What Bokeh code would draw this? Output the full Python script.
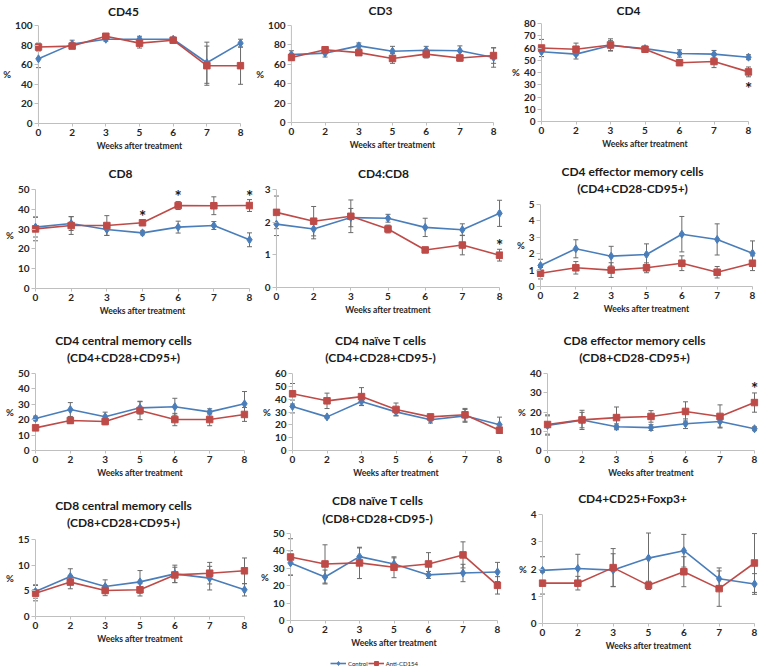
import glob
import subprocess

from bokeh.plotting import figure
from bokeh.layouts import column, row
from bokeh.models import (Range1d, FixedTicker, ColumnDataSource, Whisker, TeeHead,
                          Title, Legend, LegendItem)
from bokeh.embed import file_html
from bokeh.resources import INLINE
from bokeh.core.properties import value

# ---------------- data ----------------
weeks = ["0", "2", "3", "5", "6", "7", "8"]
series_names = ["Control", "Anti-CD154"]

cd45_ctrl = [66, 81, 86, 86, 86, 62, 82]
cd45_ctrl_err = [9, 4, 2, 3, 2, 21, 4]
cd45_anti = [78, 79, 89, 82, 85, 59, 59]
cd45_anti_err = [4, 2, 2, 5, 2, 20, 19]

cd3_ctrl = [70, 71.5, 79, 73.5, 74.5, 74, 67]
cd3_ctrl_err = [4, 4, 3, 5, 4, 5, 10]
cd3_anti = [67, 75, 72, 66, 70.5, 66.5, 69]
cd3_anti_err = [3, 3, 2, 5, 4, 3, 8]

cd4_ctrl = [57, 55, 62, 59.5, 55.5, 55, 52.5]
cd4_ctrl_err = [4, 4, 4, 2, 3, 3, 2]
cd4_anti = [60, 59, 62.5, 59, 48, 49, 40.5]
cd4_anti_err = [7, 5, 5, 2, 2, 5, 4]
cd4_sig_x = ["8"]
cd4_sig_y = [30]

cd8_ctrl = [31, 32.8, 29.8, 28.1, 31, 31.8, 24.6]
cd8_ctrl_err = [5, 3.5, 3, 1, 3, 2, 3.5]
cd8_anti = [30.1, 31.8, 31.8, 33.2, 41.9, 41.8, 41.9]
cd8_anti_err = [6, 4.5, 5, 1.2, 2, 4.5, 3]
cd8_sig_x = ["5", "6", "8"]
cd8_sig_y = [38.5, 48.5, 48.5]

ratio_ctrl = [1.94, 1.79, 2.14, 2.12, 1.84, 1.77, 2.27]
ratio_ctrl_err = [0.35, 0.3, 0.28, 0.12, 0.28, 0.18, 0.4]
ratio_anti = [2.30, 2.03, 2.18, 1.79, 1.15, 1.30, 0.99]
ratio_anti_err = [0.5, 0.45, 0.5, 0.12, 0.08, 0.3, 0.18]
ratio_sig_x = ["8"]
ratio_sig_y = [1.4]

cd4em_ctrl = [1.28, 2.3, 1.85, 1.95, 3.19, 2.87, 2.03]
cd4em_ctrl_err = [0.38, 0.55, 0.6, 0.65, 1.08, 0.95, 0.75]
cd4em_anti = [0.81, 1.14, 1.0, 1.14, 1.42, 0.87, 1.42]
cd4em_anti_err = [0.35, 0.38, 0.45, 0.3, 0.45, 0.35, 0.45]

cd4cm_ctrl = [20.8, 26.6, 21.9, 27.7, 28.4, 25.1, 30.3]
cd4cm_ctrl_err = [1.5, 4.5, 3, 4, 5.5, 2, 8]
cd4cm_anti = [14.7, 19.5, 18.8, 26.0, 20.1, 20.1, 23.4]
cd4cm_anti_err = [1.5, 2, 2, 6, 4, 4, 4.5]

cd4n_ctrl = [34.3, 26.2, 38.2, 30.1, 23.9, 27, 20]
cd4n_ctrl_err = [5, 1, 3, 3, 2.5, 5, 6]
cd4n_anti = [44.2, 38.7, 42, 32, 26.2, 27.8, 15.8]
cd4n_anti_err = [8, 6, 7, 5, 2, 5, 2]

cd8em_ctrl = [13, 15.8, 12.3, 11.9, 13.9, 15.1, 11.3]
cd8em_ctrl_err = [5, 4, 1.5, 1.5, 2.5, 3, 1]
cd8em_anti = [13.5, 15.9, 17.1, 17.7, 20.3, 17.7, 24.9]
cd8em_anti_err = [5, 5, 5.5, 3, 5, 6, 5]
cd8em_sig_x = ["8"]
cd8em_sig_y = [34.5]

cd8cm_ctrl = [4.87, 7.8, 5.84, 6.75, 8.3, 7.47, 5.2]
cd8cm_ctrl_err = [1.3, 1.5, 1.3, 2.2, 1.7, 2.3, 1.2]
cd8cm_anti = [4.55, 6.7, 5.06, 5.2, 8.1, 8.44, 8.9]
cd8cm_anti_err = [1.5, 1.3, 1.0, 1.2, 1.5, 2.1, 2.5]

cd8n_ctrl = [33.1, 25, 36.7, 32.5, 26.2, 27.3, 27.9]
cd8n_ctrl_err = [7, 4, 5, 3.5, 2, 5, 5.5]
cd8n_anti = [36.5, 32.5, 33.1, 30.6, 32.5, 37.7, 20.2]
cd8n_anti_err = [10.5, 11, 9, 6, 6.5, 7.5, 5]

treg_ctrl = [1.95, 2.02, 1.96, 2.4, 2.67, 1.64, 1.45]
treg_ctrl_err = [0.5, 0.52, 0.6, 0.92, 0.6, 0.4, 0.38]
treg_anti = [1.48, 1.48, 2.05, 1.4, 1.9, 1.28, 2.22]
treg_anti_err = [0.4, 0.25, 0.7, 0.15, 0.55, 0.65, 1.08]

# ---------------- style / layout ----------------
FONT = "Lato"
BLUE = "#4A7EBB"
RED = "#BE4B48"
ERRC = "#6b6b6b"
AXC = "#bfbfbf"
TXT = "#262626"
PAD = 4
TITLE_PX = 12
TITLE_H = 15       # height of one title line (px)

COLS = [(0, 253), (253, 503), (503, 760)]
ROWS = [(0, 157), (157, 320), (320, 485), (485, 655)]
LEGEND_ROW = (655, 669)

panels = [
    # row 1
    dict(r=0, c=0, titles=[("CD45", 121, 11)], ymax=100, step=20, frame=(36, 240, 25, 123), pct=True,
         ctrl=cd45_ctrl, ce=cd45_ctrl_err, anti=cd45_anti, ae=cd45_anti_err),
    dict(r=0, c=1, titles=[("CD3", 375, 10)], ymax=100, step=20, frame=(286, 493, 25, 122), pct=True,
         ctrl=cd3_ctrl, ce=cd3_ctrl_err, anti=cd3_anti, ae=cd3_anti_err),
    dict(r=0, c=2, titles=[("CD4", 628, 9.5)], ymax=80, step=10, frame=(541, 748, 23, 121), pct=True,
         ctrl=cd4_ctrl, ce=cd4_ctrl_err, anti=cd4_anti, ae=cd4_anti_err, sx=cd4_sig_x, sy=cd4_sig_y),
    # row 2
    dict(r=1, c=0, titles=[("CD8", 120, 173)], ymax=50, step=10, frame=(35, 249, 189, 288), pct=True, tpad=8,
         ctrl=cd8_ctrl, ce=cd8_ctrl_err, anti=cd8_anti, ae=cd8_anti_err, sx=cd8_sig_x, sy=cd8_sig_y),
    dict(r=1, c=1, titles=[("CD4:CD8", 383, 173)], ymax=3, step=1, frame=(276, 501, 189, 287), pct=False,
         ctrl=ratio_ctrl, ce=ratio_ctrl_err, anti=ratio_anti, ae=ratio_anti_err, sx=ratio_sig_x, sy=ratio_sig_y),
    dict(r=1, c=2, titles=[("CD4 effector memory cells", 632, 172), ("(CD4+CD28-CD95+)", 632, 188)],
         ymax=5, step=1, frame=(540, 752, 204, 286), pct=True,
         ctrl=cd4em_ctrl, ce=cd4em_ctrl_err, anti=cd4em_anti, ae=cd4em_anti_err),
    # row 3
    dict(r=2, c=0, titles=[("CD4 central memory cells", 123, 342), ("(CD4+CD28+CD95+)", 123, 357)],
         ymax=50, step=10, frame=(35, 244, 373, 450), pct=True,
         ctrl=cd4cm_ctrl, ce=cd4cm_ctrl_err, anti=cd4cm_anti, ae=cd4cm_anti_err),
    dict(r=2, c=1, titles=[("CD4 naïve T cells", 380, 342), ("(CD4+CD28+CD95-)", 380, 357)],
         ymax=60, step=10, frame=(292, 499, 373, 450), pct=True,
         ctrl=cd4n_ctrl, ce=cd4n_ctrl_err, anti=cd4n_anti, ae=cd4n_anti_err),
    dict(r=2, c=2, titles=[("CD8 effector memory cells", 634, 342), ("(CD8+CD28-CD95+)", 634, 357)],
         ymax=40, step=10, frame=(547, 754, 373, 450), pct=True,
         ctrl=cd8em_ctrl, ce=cd8em_ctrl_err, anti=cd8em_anti, ae=cd8em_anti_err, sx=cd8em_sig_x, sy=cd8em_sig_y),
    # row 4
    dict(r=3, c=0, titles=[("CD8 central memory cells", 123, 508), ("(CD8+CD28+CD95+)", 123, 522)],
         ymax=15, step=5, frame=(35, 244, 539, 616), pct=True,
         ctrl=cd8cm_ctrl, ce=cd8cm_ctrl_err, anti=cd8cm_anti, ae=cd8cm_anti_err),
    dict(r=3, c=1, titles=[("CD8 naïve T cells", 377, 500), ("(CD8+CD28+CD95-)", 377, 518)],
         ymax=50, step=10, frame=(290, 497, 533, 620), pct=True,
         ctrl=cd8n_ctrl, ce=cd8n_ctrl_err, anti=cd8n_anti, ae=cd8n_anti_err),
    dict(r=3, c=2, titles=[("CD4+CD25+Foxp3+", 632, 498)], ymax=4, step=1, frame=(542, 754, 514, 623), pct=True,
         ctrl=treg_ctrl, ce=treg_ctrl_err, anti=treg_anti, ae=treg_anti_err),
]


# ---- text width measurement (for placing left-aligned titles) ----
def _find_font():
    try:
        out = subprocess.run(["fc-match", "-f", "%{file}", "Lato:bold"], capture_output=True,
                             text=True, timeout=10).stdout.strip()
        if out and "lato" in out.lower():
            return out
    except Exception:
        pass
    hits = [f for f in glob.glob("/usr/share/fonts/**/*.ttf", recursive=True)
            if "lato" in f.lower() and "bold" in f.lower() and "italic" not in f.lower()
            and "semi" not in f.lower() and "extra" not in f.lower()]
    return hits[0] if hits else None


_font = None
try:
    from PIL import ImageFont
    _fp = _find_font()
    if _fp:
        _font = ImageFont.truetype(_fp, TITLE_PX)
except Exception:
    _font = None


def text_width(s):
    if _font is not None:
        try:
            return _font.getlength(s)
        except Exception:
            pass
    return 0.56 * TITLE_PX * len(s)


def style_text(obj, prefix, size, bold=True):
    setattr(obj, prefix + "_font", FONT)
    setattr(obj, prefix + "_font_style", "bold" if bold else "normal")
    setattr(obj, prefix + "_font_size", size)
    setattr(obj, prefix + "_color", TXT)


def make_panel(spec):
    fx0, fx1 = COLS[spec["c"]]
    fy0, fy1 = ROWS[spec["r"]]
    ax, ex, top, bot = spec["frame"]
    n = len(weeks)
    ymax = spec["ymax"]
    tpad = spec.get("tpad", 0)
    unit_x = (ex - ax) / (n - 1)
    unit_y = (bot - top) / ymax
    padu = PAD / unit_x
    frame_left, frame_right, frame_top = ax - PAD, ex + PAD, top - tpad
    p = figure(width=fx1 - fx0, height=fy1 - fy0,
               x_range=Range1d(-padu, n - 1 + padu), y_range=Range1d(0, ymax + tpad / unit_y),
               output_backend="svg", toolbar_location=None, frame_align=False,
               min_border_left=frame_left - fx0, min_border_right=fx1 - frame_right,
               min_border_top=frame_top - fy0, min_border_bottom=fy1 - bot)
    p.outline_line_color = None
    p.xgrid.visible = False
    p.ygrid.visible = False

    xs = list(range(n))
    src = ColumnDataSource(dict(
        x=xs, ctrl=spec["ctrl"], anti=spec["anti"],
        c_lo=[v - e for v, e in zip(spec["ctrl"], spec["ce"])],
        c_hi=[v + e for v, e in zip(spec["ctrl"], spec["ce"])],
        a_lo=[v - e for v, e in zip(spec["anti"], spec["ae"])],
        a_hi=[v + e for v, e in zip(spec["anti"], spec["ae"])],
    ))
    # y axis line drawn at the first category
    p.segment(x0=[xs[0]], y0=[0], x1=[xs[0]], y1=[ymax], line_color=AXC, line_width=1)

    for lo, hi in (("c_lo", "c_hi"), ("a_lo", "a_hi")):
        p.add_layout(Whisker(base="x", lower=lo, upper=hi, source=src, line_color=ERRC, line_width=1,
                             upper_head=TeeHead(size=5, line_color=ERRC, line_width=1),
                             lower_head=TeeHead(size=5, line_color=ERRC, line_width=1),
                             level="underlay"))

    p.line("x", "ctrl", source=src, line_color=BLUE, line_width=1.6)
    p.scatter("x", "ctrl", source=src, marker="diamond", size=8, fill_color=BLUE, line_color=BLUE)
    p.line("x", "anti", source=src, line_color=RED, line_width=1.6)
    p.scatter("x", "anti", source=src, marker="square", size=6.5, fill_color=RED, line_color=RED)

    if "sx" in spec:
        sig = ColumnDataSource(dict(x=[weeks.index(w) for w in spec["sx"]], y=spec["sy"],
                                    t=["*"] * len(spec["sx"])))
        p.text("x", "y", text="t", source=sig, text_align="center", text_baseline="middle",
               y_offset=4, text_font=value(FONT), text_font_style="bold", text_font_size="17px",
               text_color="#1a1a1a")

    # axes
    xa, ya = p.xaxis[0], p.yaxis[0]
    xa.ticker = FixedTicker(ticks=xs)
    xa.major_label_overrides = {i: w for i, w in enumerate(weeks)}
    xa.bounds = (xs[0], xs[-1])
    ya.ticker = FixedTicker(ticks=list(range(0, int(ymax) + 1, spec["step"])))
    ya.bounds = (0, ymax)
    for a in (xa, ya):
        a.major_tick_line_color = AXC
        a.minor_tick_line_color = None
        a.major_label_standoff = 2
        style_text(a, "major_label_text", "10px")
    xa.axis_line_color = AXC
    xa.major_tick_in = 0
    xa.major_tick_out = 3
    ya.axis_line_color = None
    ya.major_tick_out = 0
    ya.major_tick_in = PAD
    xa.axis_label = "Weeks after treatment"
    xa.axis_label_standoff = 2
    style_text(xa, "axis_label_text", "8.5px")
    if spec["pct"]:
        ya.axis_label = "%"
        ya.axis_label_orientation = "horizontal"
        ya.axis_label_standoff = 1
        style_text(ya, "axis_label_text", "9.5px")

    # titles: an invisible spacer next to the frame, then the lines, nearest first
    lines = list(reversed(spec["titles"]))
    spacer = frame_top - lines[0][2] - TITLE_H / 2
    if spacer >= 3:
        sp = Title(text=" ", text_font_size="1px", standoff=int(round(spacer - 3)))
        p.add_layout(sp, "above")
        b = frame_top - (3 + int(round(spacer - 3)))
    else:
        b = frame_top
    for txt, cx, cy in lines:
        so = max(0, int(round(2 * (b - cy - TITLE_H / 2))))
        left = cx - text_width(txt) / 2
        t = Title(text=txt, align="left", offset=left - frame_left, standoff=so)
        style_text(t, "text", f"{TITLE_PX}px")
        t.text_color = "#1a1a1a"
        p.add_layout(t, "above")
        b -= 2 + TITLE_H + so
    return p


figs = [make_panel(s) for s in panels]

# legend strip
lg = figure(width=760, height=LEGEND_ROW[1] - LEGEND_ROW[0], x_range=Range1d(0, 1), y_range=Range1d(0, 1),
            output_backend="svg", toolbar_location=None, frame_align=False,
            x_axis_location=None, y_axis_location=None, min_border=0)
lg.outline_line_color = None
lg.xgrid.visible = False
lg.ygrid.visible = False
items = []
for name, color, marker, size in zip(series_names, [BLUE, RED], ["diamond", "square"], [7, 6]):
    hidden = ColumnDataSource(dict(x=[float("nan")], y=[float("nan")]))
    r1 = lg.line("x", "y", source=hidden, line_color=color, line_width=1.6)
    r2 = lg.scatter("x", "y", source=hidden, marker=marker, size=size, fill_color=color, line_color=color)
    items.append(LegendItem(label=name, renderers=[r1, r2]))
leg = Legend(items=items, location=(330, 1), orientation="horizontal",
             padding=0, margin=0, spacing=0, glyph_width=16, glyph_height=10,
             label_standoff=2, label_height=10, label_width=18,
             border_line_color=None, background_fill_alpha=0)
style_text(leg, "label_text", "6px", bold=False)
leg.label_text_color = "#1a1a1a"
lg.add_layout(leg)

layout = column(*[row(*figs[i * 3:(i + 1) * 3]) for i in range(4)], lg)

open("out.html", "w").write(file_html(layout, INLINE))
